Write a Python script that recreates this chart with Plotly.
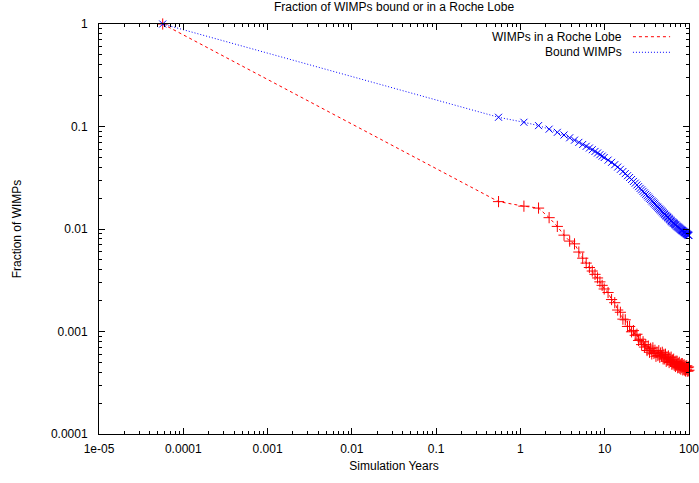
import plotly.graph_objects as go

# Simulation time (years)
years = [5.7e-05,
         0.55, 1.10, 1.64, 2.19, 2.74, 3.29, 3.84, 4.38, 4.93, 5.48, 6.03, 6.58, 7.12, 7.67, 8.22, 8.77, 9.32, 9.86,
         10.96, 12.06, 13.15, 14.25, 15.34, 16.44, 17.54, 18.63, 19.73, 20.82, 21.92, 23.02, 24.11, 25.21, 26.30,
         27.40, 28.50, 29.59, 30.69, 31.78, 32.88, 33.98, 35.07, 36.17, 37.26, 38.36, 39.46, 40.55, 41.65, 42.74,
         43.84, 44.94, 46.03, 47.13, 48.22, 49.32, 50.42, 51.51, 52.61, 53.70, 54.80, 55.90, 56.99, 58.09, 59.18,
         60.28, 61.38, 62.47, 63.57, 64.66, 65.76, 66.86, 67.95, 69.05, 70.14, 71.24, 72.34, 73.43, 74.53, 75.62,
         76.72, 77.82, 78.91, 80.01, 81.10, 82.20, 83.30, 84.39, 85.49, 86.58, 87.68, 88.78, 89.87, 90.97, 92.06,
         93.16, 94.26, 95.35, 96.45, 97.54, 98.64, 99.74]

# Fraction of WIMPs in a Roche lobe
roche = [1.0,
         0.0185, 0.0167, 0.0160, 0.0129, 0.0106, 0.00871, 0.00762, 0.00716, 0.00596, 0.00519, 0.00465, 0.00421,
         0.00389, 0.00361, 0.00333, 0.00305, 0.00282, 0.00260,
         0.00240, 0.00205, 0.00191, 0.00162, 0.00154, 0.00132, 0.00130, 0.00112, 0.00112, 0.000993, 0.00102,
         0.000918, 0.000940, 0.000818, 0.000841, 0.000745, 0.000794, 0.000705, 0.000745, 0.000652, 0.000721,
         0.000627, 0.000685, 0.000604, 0.000692, 0.000610, 0.000656, 0.000573, 0.000630, 0.000583, 0.000649,
         0.000561, 0.000617, 0.000578, 0.000627, 0.000540, 0.000598, 0.000540, 0.000600, 0.000512, 0.000561,
         0.000525, 0.000577, 0.000498, 0.000553, 0.000512, 0.000562, 0.000480, 0.000527, 0.000482, 0.000537,
         0.000469, 0.000505, 0.000456, 0.000514, 0.000470, 0.000512, 0.000443, 0.000488, 0.000448, 0.000500,
         0.000439, 0.000473, 0.000430, 0.000485, 0.000446, 0.000486, 0.000422, 0.000467, 0.000429, 0.000473,
         0.000421, 0.000454, 0.000412, 0.000461, 0.000429, 0.000462, 0.000411, 0.000444, 0.000412, 0.000451,
         0.000419]

# Fraction of bound WIMPs
bound = [1.0,
         0.123, 0.110, 0.102, 0.0942, 0.0877, 0.0826, 0.0776, 0.0736, 0.0700, 0.0668, 0.0641, 0.0617, 0.0594,
         0.0571, 0.0551, 0.0531, 0.0514, 0.0498,
         0.0470, 0.0447, 0.0424, 0.0402, 0.0382, 0.0364, 0.0347, 0.0331, 0.0318, 0.0304, 0.0291, 0.0280, 0.0269,
         0.0259, 0.0249, 0.0241, 0.0233, 0.0225, 0.0218, 0.0211, 0.0205, 0.0199, 0.0194, 0.0188, 0.0184, 0.0179,
         0.0175, 0.0170, 0.0166, 0.0163, 0.0159, 0.0156, 0.0153, 0.0150, 0.0147, 0.0144, 0.0141, 0.0139, 0.0136,
         0.0134, 0.0132, 0.0130, 0.0128, 0.0126, 0.0124, 0.0122, 0.0120, 0.0118, 0.0117, 0.0115, 0.0114, 0.0113,
         0.0111, 0.0110, 0.0109, 0.0107, 0.0106, 0.0105, 0.0104, 0.0103, 0.0102, 0.0101, 0.00998, 0.00989,
         0.00980, 0.00972, 0.00964, 0.00957, 0.00948, 0.00942, 0.00934, 0.00927, 0.00920, 0.00914, 0.00906,
         0.00900, 0.00893, 0.00887, 0.00881, 0.00875, 0.00869, 0.00863]

x_tickvals = [1e-5, 1e-4, 1e-3, 1e-2, 1e-1, 1, 10, 100]
x_ticktext = ["1e-05", "0.0001", "0.001", "0.01", "0.1", "1", "10", "100"]
y_tickvals = [1e-4, 1e-3, 1e-2, 1e-1, 1]
y_ticktext = ["0.0001", "0.001", "0.01", "0.1", "1"]

series_names = ["WIMPs in a Roche Lobe", "Bound WIMPs"]
RED = "#ff0000"
BLUE = "#0000ff"
FONT = "Liberation Sans, Arial, sans-serif"

# minor tick positions (2..9 within each decade)
x_minor = [m * 10.0 ** d for d in range(-5, 2) for m in range(2, 10)]
y_minor = [m * 10.0 ** d for d in range(-4, 0) for m in range(2, 10)]

fig = go.Figure()
fig.add_trace(go.Scatter(
    x=years, y=roche, mode="lines+markers", name=series_names[0],
    line=dict(color=RED, width=1, dash="3px,3px"),
    marker=dict(symbol="cross-thin", size=8, line=dict(color=RED, width=1)),
    cliponaxis=False, showlegend=False))
fig.add_trace(go.Scatter(
    x=years, y=bound, mode="lines+markers", name=series_names[1],
    line=dict(color=BLUE, width=1, dash="1px,2px"),
    marker=dict(symbol="x-thin", size=7, line=dict(color=BLUE, width=1)),
    cliponaxis=False, showlegend=False))

axis_common = dict(
    type="log", showgrid=False, zeroline=False, automargin=False,
    showline=True, linecolor="black", linewidth=1, mirror="allticks",
    ticks="inside", ticklen=6, tickwidth=1, tickcolor="black",
    ticklabeloverflow="allow",
    tickfont=dict(family=FONT, size=12, color="black"),
)

fig.update_xaxes(
    range=[-5, 2], tickvals=x_tickvals, ticktext=x_ticktext, ticklabelstandoff=4,
    minor=dict(ticks="inside", ticklen=3, tickwidth=1, tickcolor="black", showgrid=False, tickvals=x_minor),
    title=dict(text="Simulation Years", font=dict(family=FONT, size=12, color="black"), standoff=6),
    **axis_common)
fig.update_yaxes(
    range=[-4, 0], tickvals=y_tickvals, ticktext=y_ticktext, ticklabelstandoff=8,
    minor=dict(ticks="inside", ticklen=3, tickwidth=1, tickcolor="black", showgrid=False, tickvals=y_minor),
    title=dict(text="Fraction of WIMPs", font=dict(family=FONT, size=12, color="black"), standoff=26),
    **axis_common)

# legend (gnuplot style: text right-aligned, sample on the right)
legend_y = [0.969, 0.931]
legend_dash = ["3px,3px", "1px,2px"]
legend_color = [RED, BLUE]
annotations = []
shapes = []
for name, ly, dsh, col in zip(series_names, legend_y, legend_dash, legend_color):
    annotations.append(dict(xref="paper", yref="paper", x=0.89, y=ly, text=name, showarrow=False,
                            xanchor="right", yanchor="middle", font=dict(family=FONT, size=12, color="black")))
    shapes.append(dict(type="line", xref="paper", yref="paper", x0=0.905, x1=0.968, y0=ly, y1=ly,
                       line=dict(color=col, width=1, dash=dsh)))

fig.update_layout(
    width=699, height=483,
    margin=dict(l=99, r=10, t=24, b=49, autoexpand=False),
    paper_bgcolor="white", plot_bgcolor="white",
    title=dict(text="Fraction of WIMPs bound or in a Roche Lobe", x=0.5, xref="paper",
               y=1 - 7 / 483, yref="container", yanchor="middle", xanchor="center",
               font=dict(family=FONT, size=12, color="black")),
    annotations=annotations, shapes=shapes,
    font=dict(family=FONT, size=12, color="black"),
)

fig.write_html("out.html",
               config={"displayModeBar": False},
               post_script="document.body.style.margin='0';document.body.style.overflow='hidden';")
